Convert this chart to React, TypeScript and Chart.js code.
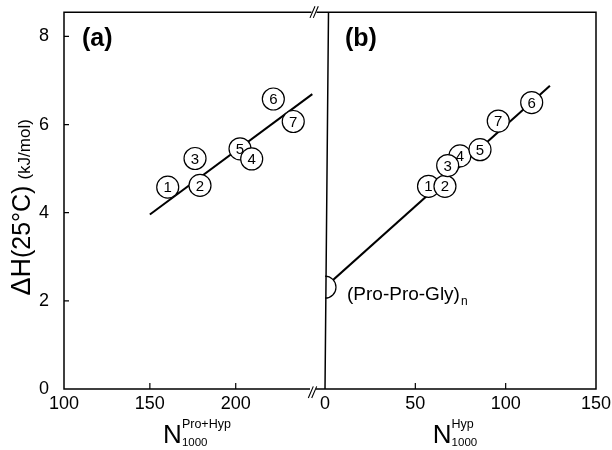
import React, { useEffect, useRef } from 'react';
import { Chart, registerables } from 'chart.js';
Chart.register(...registerables);

const FONT = '"Liberation Sans", Arial, Helvetica, sans-serif';

// Panel (a): ΔH vs N(Pro+Hyp) per 1000
const A_LABELS = ['1', '2', '3', '5', '4', '6', '7'];
const A_X = [160.4, 179.2, 176.3, 202.5, 209.3, 221.9, 233.5];
const A_Y = [4.58, 4.62, 5.23, 5.45, 5.22, 6.58, 6.07];
const A_FIT_X = [150, 244.6];
const A_FIT_Y = [3.96, 6.69];
const A_X_TICKS = [100, 150, 200];
const A_X_MIN = 100;
const A_X_MAX = 245;

// Panel (b): ΔH vs N(Hyp) per 1000
const B_LABELS = ['1', '2', '4', '3', '5', '7', '6'];
const B_X = [57.3, 66.4, 74.7, 67.9, 85.8, 95.9, 114.4];
const B_Y = [4.6, 4.6, 5.29, 5.07, 5.43, 6.08, 6.5];
const B_FIT_X = [0, 124.5];
const B_FIT_Y = [2.31, 6.88];
const PPG_X = [0];
const PPG_Y = [2.31];
const PPG_LABEL = '(Pro-Pro-Gly)';
const B_X_TICKS = [0, 50, 100, 150];
const B_X_MIN = 0;
const B_X_MAX = 150;

const Y_TICKS = [0, 2, 4, 6, 8];
const Y_MIN = 0;
const Y_MAX = 8.55;

const toPts = (xs: number[], ys: number[]) => xs.map((x, i) => ({ x, y: ys[i] }));

function drawNTitle(ctx: CanvasRenderingContext2D, cx: number, baseline: number, sup: string) {
  ctx.fillStyle = '#000';
  ctx.textAlign = 'left';
  ctx.textBaseline = 'alphabetic';
  ctx.font = `26px ${FONT}`;
  const wN = ctx.measureText('N').width;
  ctx.font = `12.5px ${FONT}`;
  const wSup = ctx.measureText(sup).width;
  ctx.font = `11.5px ${FONT}`;
  const wSub = ctx.measureText('1000').width;
  const w = wN + Math.max(wSup, wSub);
  const x0 = cx - w / 2;
  ctx.font = `26px ${FONT}`;
  ctx.fillText('N', x0, baseline);
  ctx.font = `12.5px ${FONT}`;
  ctx.fillText(sup, x0 + wN, baseline - 15);
  ctx.font = `11.5px ${FONT}`;
  ctx.fillText('1000', x0 + wN, baseline + 3);
}

function makePlugin(side: 'left' | 'right', labels: string[]) {
  return {
    id: 'panelDecor_' + side,
    afterDraw(chart: any) {
      const ctx: CanvasRenderingContext2D = chart.ctx;
      const { left, right, top, bottom } = chart.chartArea;
      const xs = chart.scales.x;
      const ys = chart.scales.y;
      ctx.save();
      ctx.strokeStyle = '#000';
      ctx.lineWidth = 1.5;
      ctx.lineCap = 'butt';
      ctx.beginPath();
      if (side === 'left') {
        ctx.moveTo(left, top);
        ctx.lineTo(left, bottom);
        ctx.moveTo(left - 0.75, top);
        ctx.lineTo(right - 1.5, top);
        ctx.moveTo(left - 0.75, bottom);
        ctx.lineTo(right - 3, bottom);
      } else {
        ctx.moveTo(left + 3.5, top);
        ctx.lineTo(left, bottom);
        ctx.moveTo(right, top);
        ctx.lineTo(right, bottom);
        ctx.moveTo(left - 8.5, top);
        ctx.lineTo(right + 0.75, top);
        ctx.moveTo(left - 9, bottom);
        ctx.lineTo(right + 0.75, bottom);
      }
      ctx.stroke();

      // break marks
      if (side === 'left') {
        ctx.lineWidth = 1.1;
        ctx.beginPath();
        ctx.moveTo(right - 3, top + 5.7);
        ctx.lineTo(right + 2, top - 6);
        ctx.moveTo(right + 0.3, top + 5.7);
        ctx.lineTo(right + 5.3, top - 6);
        ctx.moveTo(right - 4.7, bottom + 9);
        ctx.lineTo(right + 0.3, bottom - 2.6);
        ctx.moveTo(right - 1.3, bottom + 9);
        ctx.lineTo(right + 3.7, bottom - 2.6);
        ctx.stroke();
      }

      // inward ticks
      ctx.lineWidth = 1.2;
      ctx.beginPath();
      xs.ticks.forEach((t: any) => {
        const px = xs.getPixelForValue(t.value);
        if (px > left + 2 && px < right - 2) {
          ctx.moveTo(px, bottom);
          ctx.lineTo(px, bottom - 6);
        }
      });
      if (side === 'left') {
        ys.ticks.forEach((t: any) => {
          const py = ys.getPixelForValue(t.value);
          if (py < bottom - 2) {
            ctx.moveTo(left, py);
            ctx.lineTo(left + 5, py);
          }
        });
      }
      ctx.stroke();

      // numbers inside circles
      const meta = chart.getDatasetMeta(0);
      ctx.fillStyle = '#000';
      ctx.font = `15px ${FONT}`;
      ctx.textAlign = 'center';
      ctx.textBaseline = 'middle';
      meta.data.forEach((el: any, i: number) => {
        ctx.fillText(labels[i], el.x, el.y + 1);
      });

      // panel label
      ctx.font = `bold 25px ${FONT}`;
      ctx.textAlign = 'left';
      ctx.textBaseline = 'middle';
      ctx.fillText(side === 'left' ? '(a)' : '(b)', left + (side === 'left' ? 18 : 20), top + 27);

      if (side === 'left') {
        drawNTitle(ctx, (left + right) / 2 + 8.5, bottom + 54, 'Pro+Hyp');
        // y title
        ctx.save();
        ctx.translate(left - 34, (top + bottom) / 2 + 95);
        ctx.rotate(-Math.PI / 2);
        ctx.textAlign = 'left';
        ctx.textBaseline = 'alphabetic';
        let x = 0;
        ctx.font = `27px ${FONT}`;
        ctx.fillText('\u0394H', x, 0);
        x += ctx.measureText('\u0394H').width;
        ctx.font = `25px ${FONT}`;
        ctx.fillText('(25\u00B0C)', x, 0);
        x += ctx.measureText('(25\u00B0C)').width + 6;
        ctx.font = `17px ${FONT}`;
        ctx.fillText('(kJ/mol)', x, 0);
        ctx.restore();
      } else {
        drawNTitle(ctx, (left + right) / 2 - 5.5, bottom + 54, 'Hyp');
        const pm = chart.getDatasetMeta(1);
        const el = pm.data[0];
        if (el) {
          ctx.textAlign = 'left';
          ctx.textBaseline = 'alphabetic';
          ctx.font = `19px ${FONT}`;
          const tx = el.x + 22;
          const ty = el.y + 13;
          ctx.fillText(PPG_LABEL, tx, ty);
          const w = ctx.measureText(PPG_LABEL).width;
          ctx.font = `12px ${FONT}`;
          ctx.fillText('n', tx + w + 1, ty + 5);
        }
      }
      ctx.restore();
    },
  };
}

function scaleX(min: number, max: number, ticks: number[]) {
  return {
    type: 'linear' as const,
    min,
    max,
    afterBuildTicks: (s: any) => {
      s.ticks = ticks.map((v) => ({ value: v }));
    },
    afterFit: (s: any) => {
      s.height = 61;
      s.paddingLeft = 0;
      s.paddingRight = 0;
    },
    grid: { display: false },
    border: { display: false },
    ticks: {
      font: { family: FONT, size: 18 },
      color: '#000',
      padding: -4,
      autoSkip: false,
      maxRotation: 0,
      minRotation: 0,
    },
  };
}

function scaleY(display: boolean) {
  return {
    type: 'linear' as const,
    min: Y_MIN,
    max: Y_MAX,
    display,
    afterBuildTicks: (s: any) => {
      s.ticks = Y_TICKS.map((v) => ({ value: v }));
    },
    afterFit: (s: any) => {
      s.width = display ? 64 : 0;
      s.paddingTop = 0;
      s.paddingBottom = 0;
    },
    grid: { display: false },
    border: { display: false },
    ticks: {
      font: { family: FONT, size: 18 },
      color: '#000',
      padding: 7,
    },
  };
}

const circleStyle = {
  pointRadius: 11,
  pointBackgroundColor: '#fff',
  pointBorderColor: '#000',
  pointBorderWidth: 1.2,
  pointHoverRadius: 11,
  showLine: false,
};

export default function App() {
  const leftRef = useRef<HTMLCanvasElement>(null);
  const rightRef = useRef<HTMLCanvasElement>(null);

  useEffect(() => {
    const common = {
      animation: false as const,
      responsive: false,
      events: [] as any[],
      plugins: { legend: { display: false }, tooltip: { enabled: false }, title: { display: false } },
    };
    const left = new Chart(leftRef.current!, {
      type: 'scatter',
      data: {
        datasets: [
          { data: toPts(A_X, A_Y), ...circleStyle },
          {
            data: toPts(A_FIT_X, A_FIT_Y),
            showLine: true,
            borderColor: '#000',
            borderWidth: 2,
            pointRadius: 0,
          },
        ],
      },
      options: {
        ...common,
        layout: { padding: { left: 0, right: 17, top: 11, bottom: 0 } },
        scales: { x: scaleX(A_X_MIN, A_X_MAX, A_X_TICKS), y: scaleY(true) },
      },
      plugins: [makePlugin('left', A_LABELS)],
    } as any);

    const right = new Chart(rightRef.current!, {
      type: 'scatter',
      data: {
        datasets: [
          { data: toPts(B_X, B_Y), ...circleStyle },
          {
            data: toPts(PPG_X, PPG_Y),
            ...circleStyle,
            clip: { left: 0, top: false, right: false, bottom: false },
          },
          {
            data: toPts(B_FIT_X, B_FIT_Y),
            showLine: true,
            borderColor: '#000',
            borderWidth: 2,
            pointRadius: 0,
          },
        ],
      },
      options: {
        ...common,
        layout: { padding: { left: 25, right: 16, top: 11, bottom: 0 } },
        scales: { x: scaleX(B_X_MIN, B_X_MAX, B_X_TICKS), y: scaleY(false) },
      },
      plugins: [makePlugin('right', B_LABELS)],
    } as any);

    return () => {
      left.destroy();
      right.destroy();
    };
  }, []);

  return (
    <div style={{ position: 'fixed', left: 0, top: 0, width: 612, height: 450, background: '#fff' }}>
      <canvas ref={leftRef} width={330} height={450} style={{ position: 'absolute', left: 0, top: 0 }} />
      <canvas ref={rightRef} width={312} height={450} style={{ position: 'absolute', left: 300, top: 0 }} />
    </div>
  );
}
